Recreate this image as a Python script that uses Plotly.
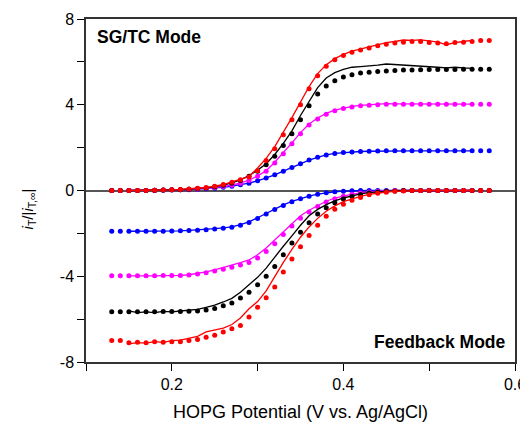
import plotly.graph_objects as go

# Potential grid (V vs Ag/AgCl)
marker_x = [round(0.13 + 0.01 * i, 2) for i in range(45)]   # 0.13 .. 0.57
line_x = [round(0.15 + 0.01 * i, 2) for i in range(41)]     # 0.15 .. 0.55

# ---- SG/TC mode (positive) : dots ----
red_sg_dots = [0, 0, 0, 0, 0, 0.01, 0.02, 0.03, 0.05, 0.07, 0.1, 0.14, 0.2, 0.28, 0.38, 0.5, 0.63, 0.92,
               1.4, 1.95, 2.6, 3.3, 4.0, 4.75, 5.35, 5.8, 6.1, 6.3, 6.45, 6.55, 6.65, 6.75, 6.82, 6.88,
               6.92, 6.95, 6.95, 6.9, 6.88, 6.85, 6.9, 6.92, 6.95, 7.0, 7.0]
black_sg_dots = [0, 0, 0, 0, 0, 0.01, 0.02, 0.03, 0.04, 0.06, 0.09, 0.12, 0.17, 0.24, 0.34, 0.47, 0.66,
                 0.9, 1.2, 1.6, 2.1, 2.65, 3.3, 3.95, 4.5, 4.88, 5.12, 5.3, 5.4, 5.48, 5.52, 5.55, 5.58,
                 5.6, 5.62, 5.62, 5.63, 5.64, 5.64, 5.65, 5.65, 5.66, 5.66, 5.66, 5.66]
magenta_sg_dots = [0, 0, 0, 0, 0, 0.01, 0.02, 0.03, 0.04, 0.05, 0.07, 0.1, 0.14, 0.19, 0.25, 0.34, 0.47,
                   0.66, 0.9, 1.28, 1.72, 2.18, 2.65, 3.05, 3.34, 3.56, 3.72, 3.83, 3.9, 3.95, 3.98, 4.0,
                   4.02, 4.02, 4.02, 4.02, 4.02, 4.02, 4.02, 4.02, 4.02, 4.02, 4.02, 4.02, 4.02]
blue_sg_dots = [0, 0, 0, 0, 0, 0, 0.01, 0.02, 0.03, 0.04, 0.06, 0.08, 0.11, 0.15, 0.2, 0.27, 0.34, 0.45,
                0.58, 0.73, 0.9, 1.07, 1.25, 1.42, 1.55, 1.66, 1.73, 1.77, 1.8, 1.82, 1.83, 1.84, 1.85,
                1.85, 1.85, 1.85, 1.85, 1.85, 1.85, 1.85, 1.85, 1.85, 1.85, 1.85, 1.85]

# ---- SG/TC mode (positive) : lines ----
red_sg_line = [0, 0, 0, 0.01, 0.02, 0.03, 0.05, 0.07, 0.1, 0.14, 0.2, 0.28, 0.4, 0.52, 0.65, 1.05, 1.5,
               2.05, 2.7, 3.4, 4.12, 4.85, 5.45, 5.87, 6.15, 6.35, 6.5, 6.6, 6.7, 6.8, 6.9, 6.95, 7.02,
               7.0, 7.03, 6.98, 6.92, 6.8, 6.9, 6.95, 7.0]
black_sg_line = [0, 0, 0, 0.01, 0.02, 0.03, 0.04, 0.06, 0.09, 0.13, 0.18, 0.25, 0.36, 0.5, 0.7, 0.95,
                 1.25, 1.68, 2.2, 2.78, 3.5, 4.15, 4.8, 5.25, 5.5, 5.65, 5.75, 5.78, 5.8, 5.85, 5.9,
                 5.88, 5.85, 5.82, 5.8, 5.78, 5.75, 5.72, 5.75, 5.72, 5.7]
magenta_sg_line = [0, 0, 0, 0.01, 0.02, 0.03, 0.04, 0.05, 0.07, 0.1, 0.14, 0.19, 0.25, 0.35, 0.48, 0.68,
                   0.92, 1.32, 1.76, 2.22, 2.7, 3.1, 3.38, 3.6, 3.75, 3.85, 3.92, 3.97, 4.0, 4.03, 4.05,
                   4.04, 4.04, 4.03, 4.03, 4.03, 4.03, 4.03, 4.03, 4.03, 4.03]
blue_sg_line = [0, 0, 0, 0, 0.01, 0.02, 0.03, 0.04, 0.06, 0.08, 0.11, 0.15, 0.2, 0.27, 0.34, 0.45, 0.58,
                0.73, 0.9, 1.07, 1.25, 1.42, 1.55, 1.66, 1.73, 1.77, 1.8, 1.82, 1.83, 1.84, 1.85, 1.85,
                1.85, 1.85, 1.85, 1.85, 1.85, 1.85, 1.85, 1.85, 1.85]

# ---- Feedback mode (negative) : dots ----
red_fb_dots = [-7.0, -7.0, -7.1, -7.08, -7.1, -7.06, -7.08, -7.05, -7.05, -7.0, -6.95, -6.85, -6.75,
               -6.6, -6.45, -6.3, -5.9, -5.45, -5.0, -4.5, -3.8, -3.2, -2.62, -2.1, -1.62, -1.2, -0.88,
               -0.64, -0.46, -0.33, -0.2, -0.13, -0.08, -0.04, -0.02, 0, 0, 0, 0, 0, 0, 0, 0, 0, 0]
black_fb_dots = [-5.66, -5.66, -5.66, -5.66, -5.66, -5.66, -5.65, -5.65, -5.64, -5.63, -5.62, -5.58,
                 -5.5, -5.38, -5.25, -5.02, -4.75, -4.4, -4.0, -3.55, -3.0, -2.45, -1.95, -1.5, -1.1,
                 -0.8, -0.57, -0.4, -0.28, -0.19, -0.12, -0.07, -0.04, -0.02, 0, 0, 0, 0, 0, 0, 0, 0, 0,
                 0, 0]
magenta_fb_dots = [-3.98, -3.98, -3.98, -3.98, -3.98, -3.98, -3.97, -3.97, -3.96, -3.94, -3.9, -3.84,
                   -3.76, -3.67, -3.58, -3.48, -3.36, -3.15, -2.85, -2.48, -2.05, -1.66, -1.3, -1.0,
                   -0.75, -0.54, -0.38, -0.27, -0.18, -0.12, -0.07, -0.04, -0.02, 0, 0, 0, 0, 0, 0, 0, 0,
                   0, 0, 0, 0]
blue_fb_dots = [-1.9, -1.9, -1.9, -1.9, -1.9, -1.9, -1.9, -1.89, -1.88, -1.87, -1.85, -1.83, -1.8,
                -1.76, -1.72, -1.62, -1.49, -1.31, -1.1, -0.89, -0.7, -0.53, -0.39, -0.27, -0.18, -0.11,
                -0.06, -0.03, -0.01, 0, 0, 0, 0, 0, 0, 0, 0, 0, 0, 0, 0, 0, 0, 0, 0]

# ---- Feedback mode (negative) : lines ----
red_fb_line = [-7.15, -7.1, -7.12, -7.05, -7.08, -7.0, -6.98, -6.9, -6.8, -6.6, -6.5, -6.42, -6.25,
               -5.95, -5.52, -5.18, -4.68, -4.0, -3.35, -2.75, -2.18, -1.7, -1.3, -0.97, -0.72, -0.52,
               -0.38, -0.27, -0.18, -0.12, -0.07, -0.04, -0.02, 0, 0, 0, 0, 0, 0, 0, 0]
black_fb_line = [-5.62, -5.7, -5.66, -5.7, -5.64, -5.66, -5.62, -5.6, -5.55, -5.45, -5.35, -5.2, -5.03,
                 -4.75, -4.42, -4.05, -3.62, -3.1, -2.6, -2.12, -1.62, -1.18, -0.88, -0.66, -0.48, -0.35,
                 -0.24, -0.16, -0.1, -0.06, -0.03, -0.01, 0, 0, 0, 0, 0, 0, 0, 0, 0]
magenta_fb_line = [-3.98, -3.99, -3.97, -3.98, -3.97, -3.98, -3.96, -3.93, -3.88, -3.8, -3.7, -3.6,
                   -3.5, -3.37, -3.24, -3.0, -2.68, -2.3, -1.9, -1.53, -1.18, -0.92, -0.69, -0.5, -0.35,
                   -0.25, -0.17, -0.11, -0.06, -0.03, -0.01, 0, 0, 0, 0, 0, 0, 0, 0, 0, 0]
blue_fb_line = [-1.9, -1.9, -1.9, -1.9, -1.9, -1.89, -1.88, -1.86, -1.84, -1.82, -1.78, -1.74, -1.7,
                -1.59, -1.46, -1.27, -1.07, -0.86, -0.67, -0.51, -0.38, -0.26, -0.17, -0.11, -0.06, -0.03,
                -0.01, 0, 0, 0, 0, 0, 0, 0, 0, 0, 0, 0, 0, 0, 0]

x_tickvals = [0.1, 0.2, 0.3, 0.4, 0.5, 0.6]
x_ticktext = ["", "0.2", "", "0.4", "", "0.6"]
y_tickvals = [-8, -6, -4, -2, 0, 2, 4, 6, 8]
y_ticktext = ["-8", "", "-4", "", "0", "", "4", "", "8"]

colors = {"blue": "#0000FF", "magenta": "#FF00FF", "black": "#000000", "red": "#FF0000"}

series = [
    ("blue", blue_sg_line, blue_sg_dots, blue_fb_line, blue_fb_dots),
    ("magenta", magenta_sg_line, magenta_sg_dots, magenta_fb_line, magenta_fb_dots),
    ("black", black_sg_line, black_sg_dots, black_fb_line, black_fb_dots),
    ("red", red_sg_line, red_sg_dots, red_fb_line, red_fb_dots),
]

fig = go.Figure()
for name, sg_line, sg_dots, fb_line, fb_dots in series:
    c = colors[name]
    for ly, dy in ((sg_line, sg_dots), (fb_line, fb_dots)):
        fig.add_trace(go.Scatter(x=line_x, y=ly, mode="lines",
                                 line=dict(color=c, width=1.3), showlegend=False, hoverinfo="skip"))
        fig.add_trace(go.Scatter(x=marker_x, y=dy, mode="markers",
                                 marker=dict(color=c, size=5, line=dict(width=0)),
                                 showlegend=False, hoverinfo="skip"))

font_family = "Liberation Sans, Arial, sans-serif"

# page body adds an 8px margin, so the figure is 8px smaller than the window
fig.update_layout(
    width=520, height=416,
    margin=dict(l=78, r=13, t=11, b=62, autoexpand=False),
    paper_bgcolor="white", plot_bgcolor="white",
    font=dict(family=font_family, size=16, color="black"),
    showlegend=False,
    xaxis=dict(
        range=[0.1, 0.6], tickvals=x_tickvals, ticktext=x_ticktext,
        ticks="outside", ticklen=7, tickwidth=1.3, tickcolor="black",
        showline=True, linecolor="#333333", linewidth=1.5, mirror=True,
        showgrid=False, zeroline=False, automargin=False,
        tickfont=dict(size=16), ticklabeloverflow="allow",
    ),
    yaxis=dict(
        range=[-8, 8], tickvals=y_tickvals, ticktext=y_ticktext,
        ticks="outside", ticklen=7, tickwidth=1.3, tickcolor="black",
        showline=True, linecolor="#333333", linewidth=1.5, mirror=True,
        showgrid=False, zeroline=True, zerolinecolor="#555555", zerolinewidth=1.5,
        automargin=False,
        tickfont=dict(size=16),
    ),
    annotations=[
        dict(text="HOPG Potential (V vs. Ag/AgCl)", xref="paper", yref="paper",
             x=0.5, y=-0.146, xanchor="center", yanchor="middle",
             showarrow=False, font=dict(size=18)),
        dict(text="<i>i</i><sub>T</sub>/|<i>i</i><sub>T,∞</sub>|", xref="paper", yref="paper",
             x=-0.135, y=0.445, xanchor="center", yanchor="middle", textangle=-90,
             showarrow=False, font=dict(size=15)),
        dict(text="<b>SG/TC Mode</b>", xref="paper", yref="paper", x=0.021, y=0.9475,
             xanchor="left", yanchor="middle", showarrow=False, font=dict(size=17.5)),
        dict(text="<b>Feedback Mode</b>", xref="paper", yref="paper", x=0.9837, y=0.057,
             xanchor="right", yanchor="middle", showarrow=False, font=dict(size=17.5)),
    ],
)

fig.write_html("out.html")
